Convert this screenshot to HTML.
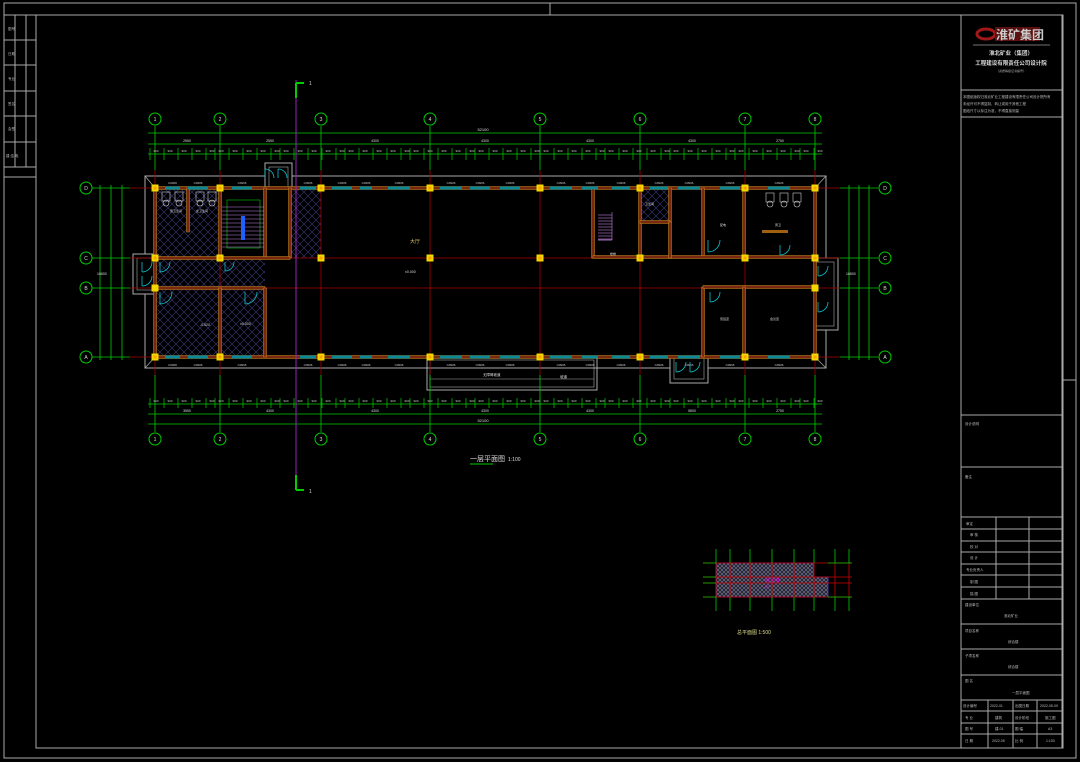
<!DOCTYPE html>
<html><head><meta charset="utf-8"><style>
html,body{margin:0;padding:0;background:#000;width:1080px;height:762px;overflow:hidden}
svg{display:block}
text{font-family:"Liberation Sans","Noto Sans CJK SC",sans-serif}
</style></head><body>
<svg id="s" width="1080" height="762" viewBox="0 0 1080 762" xmlns="http://www.w3.org/2000/svg">
<defs>
<pattern id="x" width="8" height="8" patternUnits="userSpaceOnUse"><path d="M0 0L8 8M8 0L0 8" stroke="#3a3a80" stroke-width="0.6"/></pattern>
<pattern id="x2" width="4" height="4" patternUnits="userSpaceOnUse"><rect width="4" height="4" fill="#222"/><path d="M0 0L4 4M4 0L0 4" stroke="#7a7ab0" stroke-width="0.6"/></pattern>
</defs>
<g fill="none" stroke="#aaa" stroke-width="1">
<rect x="4" y="3" width="1072" height="755"/>
<rect x="36" y="15" width="1027" height="733"/>
<rect x="4" y="15" width="32" height="162"/>
<path d="M15 15V167M26 15V167M4 40H36M4 65H36M4 91H36M4 116H36M4 142H36M4 167H36"/>
<rect x="961" y="15" width="101" height="733"/>
<path d="M961 90H1062M961 117H1062M961 415H1062M961 467H1062M961 517H1062M961 529H1062M961 541H1062M961 552H1062M961 564H1062M961 575H1062M961 587H1062M961 599H1062M961 624H1062M961 649H1062M961 675H1062M961 700H1062M961 711H1062M961 723H1062M961 734H1062"/>
<path d="M996 517V599M1029 517V599M988 700V748M1013 700V748M1037 700V748"/>
<path d="M550 3V15M1063 380H1076"/>
</g>
<g fill="#bbb" font-size="3.5">
<text x="8" y="30">图号</text><text x="8" y="55">日期</text><text x="8" y="80">专业</text><text x="8" y="105">签名</text><text x="8" y="130">会签</text><text x="6" y="157">建 结 电</text>
<text x="963" y="98">本图纸版权归淮北矿业工程建设有限责任公司设计院所有</text>
<text x="963" y="105">未经许可不得复制、转让或用于其他工程</text>
<text x="963" y="112">图纸尺寸以标注为准，不得直接测量</text>
<text x="965" y="425">设计说明</text><text x="965" y="478">备注</text>
<text x="966" y="525">审定</text><text x="970" y="536">审 核</text><text x="970" y="548">校 对</text><text x="970" y="559">设 计</text><text x="966" y="571">专业负责人</text><text x="970" y="583">制 图</text><text x="970" y="595">描 图</text>
<text x="965" y="606">建设单位</text><text x="1004" y="617">淮北矿业</text>
<text x="965" y="632">项目名称</text><text x="1008" y="643">综合楼</text>
<text x="965" y="657">子项名称</text><text x="1008" y="668">综合楼</text>
<text x="965" y="682">图 名</text><text x="1012" y="694">一层平面图</text>
<text x="963" y="707">设计编号</text><text x="990" y="707">2022-01</text><text x="1015" y="707">出图日期</text><text x="1040" y="707">2022-05-09</text>
<text x="965" y="719">专 业</text><text x="995" y="719">建筑</text><text x="1015" y="719">设计阶段</text><text x="1045" y="719">施工图</text>
<text x="965" y="730">图 号</text><text x="995" y="730">建-01</text><text x="1015" y="730">图 幅</text><text x="1048" y="730">A3</text>
<text x="965" y="742">日 期</text><text x="992" y="742">2022.05</text><text x="1015" y="742">比 例</text><text x="1046" y="742">1:100</text>
</g>
<g>
<ellipse cx="986" cy="34" rx="9" ry="5" fill="none" stroke="#a01818" stroke-width="3"/>
<rect x="995" y="27" width="45" height="14" fill="#5a1010"/>
<text x="996" y="39" font-size="12" fill="#ccc" font-weight="bold">淮矿集团</text>
<line x1="973" y1="45" x2="1050" y2="45" stroke="#999" stroke-width="0.7"/>
<text x="1011" y="55" font-size="5.5" fill="#ddd" text-anchor="middle" font-weight="bold">淮北矿业（集团）</text>
<text x="1011" y="65" font-size="5.5" fill="#ddd" text-anchor="middle" font-weight="bold">工程建设有限责任公司设计院</text>
<text x="1011" y="72" font-size="3" fill="#aaa" text-anchor="middle">（资质等级证书编号）</text>
</g>
<g id="plan"></g>
<text x="470" y="461" font-size="7" fill="#ddd">一层平面图</text><text x="508" y="461" font-size="5" fill="#ddd">1:100</text>
<line x1="470" y1="464" x2="493" y2="464" stroke="#0c0" stroke-width="1"/>
<g>
<rect x="716" y="563" width="98" height="34" fill="url(#x2)"/>
<rect x="814" y="577" width="14" height="20" fill="url(#x2)"/>
<path d="M716 563H814V577H828V597H716Z" fill="none" stroke="#44c" stroke-width="0.8"/>
<g stroke="#c00" stroke-width="0.8"><path d="M703 563H852M703 577H852M703 583H852M703 597H852"/><path d="M716 563V597M730 563V597M750 563V597M772 563V597M794 563V597M814 563V597M835 563V597M849 563V597"/></g>
<g stroke="#0c0" stroke-width="0.8"><path d="M716 549V563M730 549V563M750 549V563M772 549V563M794 549V563M814 549V563M835 549V563M849 549V563M716 597V611M730 597V611M750 597V611M772 597V611M794 597V611M814 597V611M835 597V611M849 597V611M703 563H716M703 577H716M703 583H716M703 597H716M828 563H852M828 597H852"/></g>
<text x="765" y="582" font-size="5" fill="#e0e">综合楼</text><text x="765" y="588" font-size="4" fill="#e0e">2F</text>
<text x="737" y="634" font-size="5" fill="#dd8">总平面图 1:500</text>
</g>
</svg>
<script>
(function(){
var g=document.getElementById('plan'),h='';
function L(x1,y1,x2,y2,c,w,d){h+='<line x1="'+x1+'" y1="'+y1+'" x2="'+x2+'" y2="'+y2+'" stroke="'+c+'" stroke-width="'+(w||1)+'"'+(d?' stroke-dasharray="'+d+'"':'')+'/>';}
function R(x,y,w,ht,f,s,sw){h+='<rect x="'+x+'" y="'+y+'" width="'+w+'" height="'+ht+'" fill="'+(f||'none')+'"'+(s?' stroke="'+s+'" stroke-width="'+(sw||1)+'"':'')+'/>';}
function T(x,y,t,c,fs,a){h+='<text x="'+x+'" y="'+y+'" font-size="'+(fs||4)+'" fill="'+(c||'#ddd')+'"'+(a?' text-anchor="'+a+'"':'')+'>'+t+'</text>';}
var X=[155,220,321,430,540,640,745,815],Y=[188,258,288,357],YN=['D','C','B','A'];
var G='#0c0';
R(155,288,110,69,'url(#x)');R(155,258,110,30,'url(#x)');R(290,188,31,70,'url(#x)');R(155,188,65,70,'url(#x)');R(640,188,30,34,'url(#x)');
R(145,176,681,192,'none','#aaa',1);
L(145,176,155,188,'#aaa',0.7);L(826,176,815,188,'#aaa',0.7);L(145,368,155,357,'#aaa',0.7);L(826,368,815,357,'#aaa',0.7);
R(265,163,27,25,'#000','#aaa');R(269,167,19,21,'none','#aaa',0.6);
R(133,254,22,40,'#000','#aaa');R(137,258,18,32,'none','#aaa',0.6);
R(815,258,23,72,'#000','#aaa');R(815,262,19,64,'none','#aaa',0.6);
R(670,357,38,26,'#000','#aaa');R(674,357,30,22,'none','#aaa',0.6);
R(427,357,170,33,'none','#aaa');R(430,360,164,27,'none','#aaa',0.6);L(430,379,594,379,'#aaa',0.6);
X.forEach(function(x){L(x,170,x,375,'#a00',0.8);});
Y.forEach(function(y){L(130,y,840,y,'#a00',0.8);});
var N=['1','2','3','4','5','6','7','8'];
X.forEach(function(x,i){L(x,126,x,170,G,0.8);L(x,375,x,432,G,0.8);
h+='<circle cx="'+x+'" cy="119" r="6" fill="none" stroke="'+G+'"/><circle cx="'+x+'" cy="439" r="6" fill="none" stroke="'+G+'"/>';
T(x,121,N[i],'#ddd',5,'middle');T(x,441,N[i],'#ddd',5,'middle');});
Y.forEach(function(y,i){L(92,y,130,y,G,0.8);L(840,y,878,y,G,0.8);
h+='<circle cx="86" cy="'+y+'" r="6" fill="none" stroke="'+G+'"/><circle cx="885" cy="'+y+'" r="6" fill="none" stroke="'+G+'"/>';
T(86,y+2,YN[i],'#ddd',5,'middle');T(885,y+2,YN[i],'#ddd',5,'middle');});
[133,144,154].forEach(function(y){L(148,y,822,y,G,0.8);});
[404,414,424].forEach(function(y){L(148,y,822,y,G,0.8);});
T(483,131,'52100','#ddd',4,'middle');T(483,422,'52100','#ddd',4,'middle');
var mids=[187,270,375,485,590,692,780];
mids.forEach(function(m,i){T(m,142,['2550','2550','4300','4300','4300','4300','2750'][i],'#ddd',3.5,'middle');T(m,412,['3550','4300','4300','4300','4300','5800','2750'][i],'#ddd',3.5,'middle');});
for(var x=150;x<822;x+=13){var xx=x+(x*7%5);L(xx,148,xx,160,G,0.7);L(xx,398,xx,408,G,0.7);T(xx+6,152,'900','#ccc',3,'middle');T(xx+6,402,'900','#ccc',3,'middle');}
[100,111,122].forEach(function(x){L(x,185,x,360,G,0.8);});
[849,859,869].forEach(function(x){L(x,185,x,360,G,0.8);});
T(97,275,'16800','#ddd',3.5);T(846,275,'16800','#ddd',3.5);
function W(x1,y1,x2,y2){if(y1==y2){R(Math.min(x1,x2),y1-1.5,Math.abs(x2-x1),3,'#7a2810','#c89020',0.5);}else{R(x1-1.5,Math.min(y1,y2),3,Math.abs(y2-y1),'#7a2810','#c89020',0.5);}}
W(155,188,815,188);W(155,357,815,357);W(155,188,155,357);W(815,188,815,357);
W(220,188,220,258);W(265,188,265,258);W(290,188,290,258);W(155,258,290,258);W(155,288,265,288);W(265,288,265,357);W(188,188,188,232);W(220,288,220,357);
W(593,188,593,258);W(640,188,640,258);W(670,188,670,222);W(640,222,670,222);W(703,188,703,258);W(593,257,815,257);W(744,188,744,258);W(703,287,703,357);W(703,287,815,287);W(744,287,744,357);W(670,222,670,258);
var wd=[[165,180],[188,208],[232,252],[300,316],[332,352],[360,372],[388,410],[440,462],[470,490],[500,520],[550,572],[582,598],[612,630],[650,668],[678,700],[720,740],[768,790]];
wd.forEach(function(w){R(w[0],186.5,w[1]-w[0],3,'#0a8a98');R(w[0],355.5,w[1]-w[0],3,'#0a8a98');T((w[0]+w[1])/2,184,'C0906','#ccc',3,'middle');T((w[0]+w[1])/2,366,'C0906','#ccc',3,'middle');});
X.forEach(function(x){[188,258,357].forEach(function(y){R(x-3.5,y-3.5,7,7,'#f0d800');R(x-1.5,y-1.5,3,3,'#ffa000');});});
[155,815].forEach(function(x){R(x-3.5,284.5,7,7,'#f0d800');});
R(227,200,33,48,'none','#0c0',0.6);for(var y=207;y<250;y+=4)L(222,y,264,y,'#c080e0',0.6);R(241,216,4,24,'#2060ff');
for(var y=215;y<240;y+=3)L(598,y,612,y,'#c080e0',0.6);L(598,240,612,240,'#c080e0',0.8);L(612,212,612,240,'#c080e0',0.6);
[[162,192],[175,192],[196,192],[208,192],[766,193],[780,193],[793,193]].forEach(function(p){R(p[0],p[1],8,9,'none','#ccc',0.6);h+='<ellipse cx="'+(p[0]+4)+'" cy="'+(p[1]+11)+'" rx="3" ry="3" fill="none" stroke="#ccc" stroke-width="0.6"/>';});
R(762,230,26,3,'#a06010');
function D(x,y,r,s){h+='<path d="M'+x+' '+y+' l0 '+(r*s)+' M'+x+' '+(y+r*s)+' A'+r+' '+r+' 0 0 '+(s>0?0:1)+' '+(x+r)+' '+y+'" fill="none" stroke="#10c0d0" stroke-width="0.8"/>';}
D(160,262,10,1);D(225,262,9,1);D(265,178,9,-1);D(278,178,9,-1);D(142,262,10,1);D(142,276,10,1);D(818,266,10,1);D(818,302,10,1);D(676,362,10,1);D(690,362,10,1);D(160,292,12,1);D(245,292,12,1);D(710,292,10,1);D(708,240,12,1);D(780,245,10,1);
L(296,80,296,490,'#a020c0',1);
L(296,83,296,98,'#0c0',2);L(296,83,304,83,'#0c0',2);T(309,85,'1','#ccc',5);
L(296,475,296,490,'#0c0',2);L(296,490,304,490,'#0c0',2);T(309,493,'1','#ccc',5);
T(410,243,'大厅','#e0c060',5);T(405,273,'±0.000','#ddd',3.5);T(200,326,'-0.020','#ddd',3.5);T(240,325,'±0.000','#ddd',3.5);
T(170,212,'男卫生间','#ddd',3);T(196,212,'女卫生间','#ddd',3);T(720,320,'值班室','#ddd',3);T(770,320,'会议室','#ddd',3);T(720,226,'配电','#ddd',3);T(775,226,'男卫','#ddd',3);T(645,205,'卫生间','#ddd',3);T(610,255,'楼梯','#ddd',3);
T(483,376,'无障碍坡道','#ddd',3.5);T(560,378,'坡道','#ddd',3.5);
g.innerHTML=h;
})();
</script>
</body></html>
